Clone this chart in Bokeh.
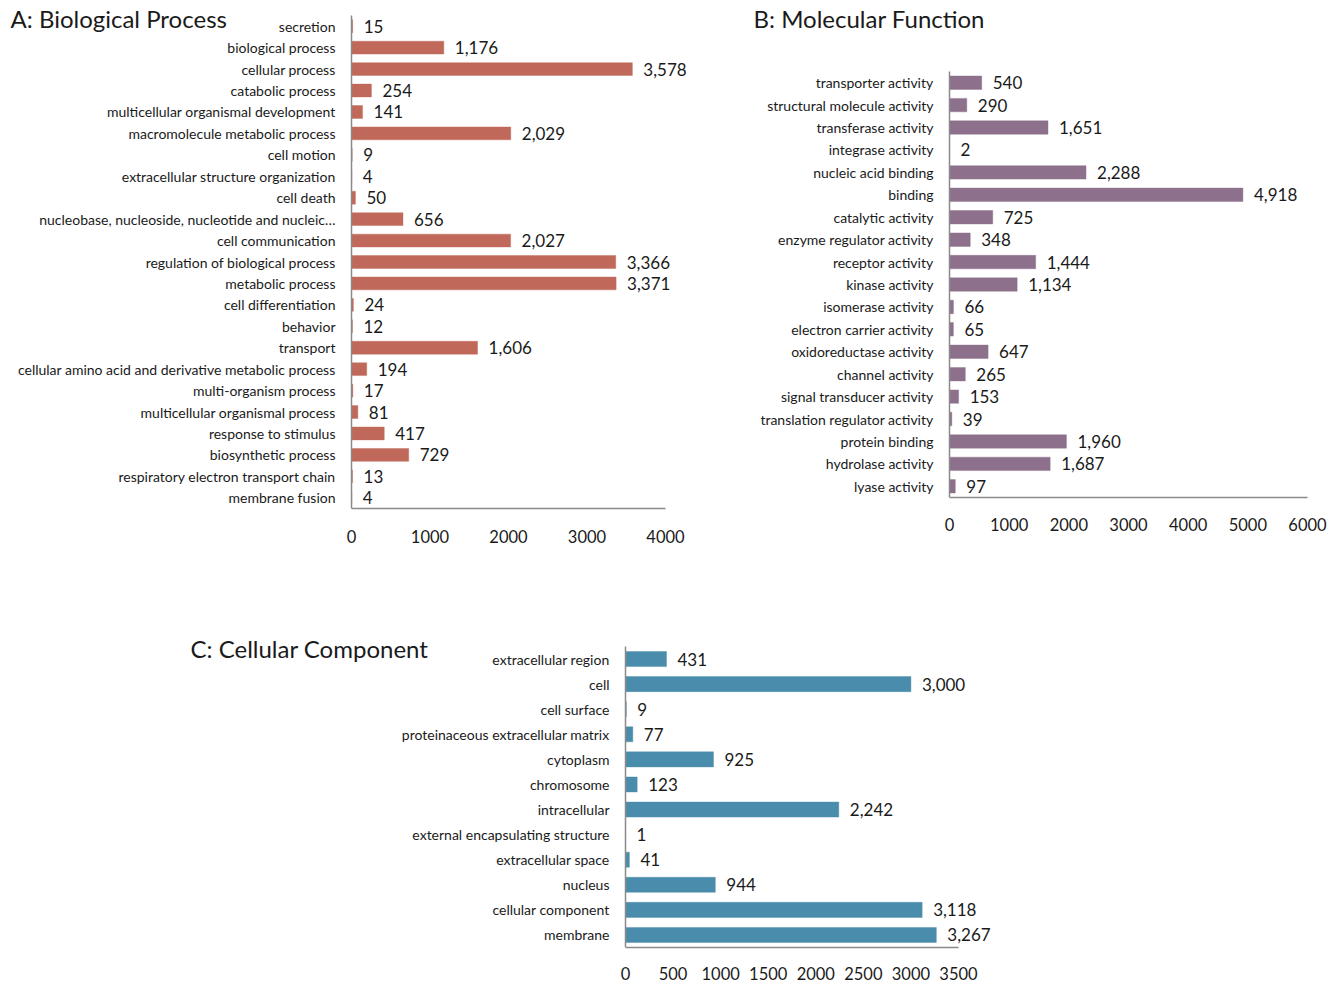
from bokeh.plotting import figure
from bokeh.models import ColumnDataSource, LabelSet, Label, Range1d, FixedTicker
from bokeh.core.properties import value
from bokeh.layouts import column, row
from bokeh.embed import file_html
from bokeh.resources import INLINE

bp_terms = ["secretion", "biological process", "cellular process", "catabolic process",
            "multicellular organismal development", "macromolecule metabolic process",
            "cell motion", "extracellular structure organization", "cell death",
            "nucleobase, nucleoside, nucleotide and nucleic\u2026", "cell communication",
            "regulation of biological process", "metabolic process", "cell differentiation",
            "behavior", "transport", "cellular amino acid and derivative metabolic process",
            "multi-organism process", "multicellular organismal process", "response to stimulus",
            "biosynthetic process", "respiratory electron transport chain", "membrane fusion"]
bp_counts = [15, 1176, 3578, 254, 141, 2029, 9, 4, 50, 656, 2027, 3366, 3371, 24, 12,
             1606, 194, 17, 81, 417, 729, 13, 4]
bp_ticks = [0, 1000, 2000, 3000, 4000]

mf_terms = ["transporter activity", "structural molecule activity", "transferase activity",
            "integrase activity", "nucleic acid binding", "binding", "catalytic activity",
            "enzyme regulator activity", "receptor activity", "kinase activity",
            "isomerase activity", "electron carrier activity", "oxidoreductase activity",
            "channel activity", "signal transducer activity", "translation regulator activity",
            "protein binding", "hydrolase activity", "lyase activity"]
mf_counts = [540, 290, 1651, 2, 2288, 4918, 725, 348, 1444, 1134, 66, 65, 647, 265, 153,
             39, 1960, 1687, 97]
mf_ticks = [0, 1000, 2000, 3000, 4000, 5000, 6000]

cc_terms = ["extracellular region", "cell", "cell surface", "proteinaceous extracellular matrix",
            "cytoplasm", "chromosome", "intracellular", "external encapsulating structure",
            "extracellular space", "nucleus", "cellular component", "membrane"]
cc_counts = [431, 3000, 9, 77, 925, 123, 2242, 1, 41, 944, 3118, 3267]
cc_ticks = [0, 500, 1000, 1500, 2000, 2500, 3000, 3500]

FONT = "Lato"
TXT = "#1a1a1a"
AXC = "#8a8a8a"


def panel(terms, counts, ticks, color, title, fig_w, fig_h, zero_px, span_px,
          rows_top, rows_bottom, title_x, title_y, x_standoff):
    n = len(terms)
    s = span_px / ticks[-1]
    row_px = (rows_bottom - rows_top) / n
    top_pad = rows_top / row_px
    idx = list(range(n))
    src = ColumnDataSource(dict(pos=idx, count=counts,
                                lab=[f"{c:,}" for c in counts]))
    p = figure(width=fig_w, height=fig_h, output_backend="svg", toolbar_location=None,
               y_range=Range1d(start=n - 0.5, end=-0.5 - top_pad),
               x_range=Range1d(-zero_px / s, (fig_w - zero_px) / s),
               min_border_left=0, min_border_top=0, min_border_right=0,
               min_border_bottom=fig_h - rows_bottom)
    p.hbar(y="pos", right="count", left=0, height=0.6, source=src,
           fill_color=color, line_color=color, line_alpha=0.4)
    p.add_layout(LabelSet(x="count", y="pos", text="lab", source=src, x_offset=11,
                          text_baseline="middle", text_font=value(FONT),
                          text_font_size=value("17px"), text_color=TXT))
    p.xgrid.visible = False
    p.ygrid.visible = False
    p.outline_line_color = None
    p.xaxis.ticker = FixedTicker(ticks=ticks)
    p.xaxis.bounds = (ticks[0], ticks[-1])
    p.yaxis.ticker = FixedTicker(ticks=idx)
    p.yaxis.major_label_overrides = {i: t for i, t in enumerate(terms)}
    p.yaxis.bounds = (-0.5, n - 0.5)
    p.yaxis.fixed_location = 0
    for ax in (p.xaxis[0], p.yaxis[0]):
        ax.major_tick_line_color = None
        ax.minor_tick_line_color = None
        ax.major_tick_out = 0
        ax.minor_tick_out = 0
        ax.axis_line_color = AXC
        ax.axis_line_width = 1.5
        ax.major_label_text_font = FONT
        ax.major_label_text_color = TXT
    p.xaxis.major_label_text_font_size = "16.5px"
    p.xaxis.major_label_standoff = x_standoff
    p.yaxis.major_label_text_font_size = "14px"
    p.yaxis.major_label_standoff = 16
    p.add_layout(Label(x=title_x, y=rows_bottom - title_y, x_units="screen", y_units="screen",
                       text=title, text_font=FONT, text_font_size="24px",
                       text_color=TXT, text_baseline="middle"))
    return p


# panel A: zero at x 351, 4000 at 665, rows y 15..508
pA = panel(bp_terms, bp_counts, bp_ticks, "#C0685A", "A: Biological Process",
           700, 566, 351, 314, 15, 508, 10, 18, 21)
# panel B: zero at x 949 (700 + 249), 6000 at 1307, rows y 71..497
pB = panel(mf_terms, mf_counts, mf_ticks, "#8D708B", "B: Molecular Function",
           638, 566, 249, 358, 71, 497, 53, 18, 20)
# panel C (starts at y 566): zero at x 625, 3500 at 958, rows y 646..947
pC = panel(cc_terms, cc_counts, cc_ticks, "#4A8CAB", "C: Cellular Component",
           1058, 419, 625, 333, 80, 381, 190, 82, 19)

layout = column(row(column(pA), column(pB)), pC)
open("out.html", "w").write(file_html(layout, INLINE))
